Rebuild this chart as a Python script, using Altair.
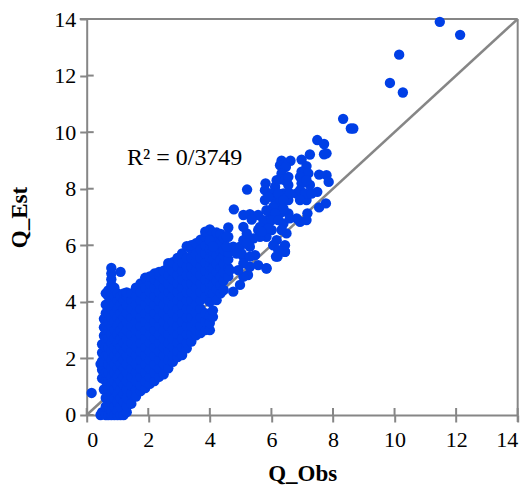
import altair as alt
import pandas as pd

tick_values = [0, 2, 4, 6, 8, 10, 12, 14]
GRAY = "#868686"
BLUE = "#003FE6"

# Columns of the dense cloud: Q_Obs -> list of Q_Est
cloud = {
    0.45: [0.0, 1.8],
    0.5: [0.1, 1.3, 1.6, 1.9, 2.2, 2.5],
    0.56: [0.9, 2.8, 3.1, 3.4],
    0.62: [0.0, 0.3, 0.6, 1.2, 1.5, 2.1, 2.4, 2.7, 3.0, 3.3, 3.6, 3.9, 4.3],
    0.7: [0.0, 0.3, 0.6, 0.9, 1.2, 1.5, 1.8, 2.1, 2.4, 2.7, 3.0, 3.3, 3.6, 3.9, 4.2, 4.4],
    0.8: [0.0, 0.15, 0.45, 0.75, 1.05, 1.35, 1.65, 1.95, 2.25, 2.55, 2.85, 3.15, 3.45, 3.75, 4.05, 4.35, 4.6, 4.8, 5.0, 5.2],
    0.9: [0.0, 0.3, 0.6, 0.9, 1.2, 1.5, 1.8, 2.1, 2.4, 2.7, 3.0, 3.3, 3.6, 3.9, 4.2, 4.5],
    1.0: [0.0, 0.15, 0.45, 0.75, 1.05, 1.35, 1.65, 1.95, 2.25, 2.55, 2.85, 3.15, 3.45, 3.75, 4.05, 4.3],
    1.1: [0.0, 0.3, 0.6, 0.9, 1.2, 1.5, 1.8, 2.1, 2.4, 2.7, 3.0, 3.3, 3.6, 3.9, 4.2, 5.06],
    1.2: [0.0, 0.45, 0.75, 1.05, 1.35, 1.65, 1.95, 2.25, 2.55, 2.85, 3.15, 3.45, 3.75, 4.05, 4.3],
    1.3: [0.1, 0.3, 0.6, 0.9, 1.2, 1.5, 1.8, 2.1, 2.4, 2.7, 3.0, 3.3, 3.6, 3.9, 4.2, 4.33],
    1.45: [0.4, 0.75, 1.05, 1.35, 1.65, 1.95, 2.25, 2.55, 2.85, 3.15, 3.45, 3.75, 4.05, 4.3],
    1.6: [0.65, 0.9, 1.2, 1.5, 1.8, 2.1, 2.4, 2.7, 3.0, 3.3, 3.6, 3.9, 4.2, 4.5],
    1.75: [0.85, 1.05, 1.35, 1.65, 1.95, 2.25, 2.55, 2.85, 3.15, 3.45, 3.75, 4.05, 4.35, 4.65],
    1.9: [0.95, 1.2, 1.5, 1.8, 2.1, 2.4, 2.7, 3.0, 3.3, 3.6, 3.9, 4.2, 4.5, 4.85],
    2.05: [1.1, 1.35, 1.65, 1.95, 2.25, 2.55, 2.85, 3.15, 3.45, 3.75, 4.05, 4.35, 4.65, 4.9],
    2.2: [1.2, 1.5, 1.8, 2.1, 2.4, 2.7, 3.0, 3.3, 3.6, 3.9, 4.2, 4.5, 4.8, 5.0],
    2.35: [1.35, 1.65, 1.95, 2.25, 2.55, 2.85, 3.15, 3.45, 3.75, 4.05, 4.35, 4.65, 4.95, 5.06],
    2.5: [1.44, 1.8, 2.1, 2.4, 2.7, 3.0, 3.3, 3.6, 3.9, 4.2, 4.5, 4.8, 5.1],
    2.65: [1.65, 1.95, 2.25, 2.55, 2.85, 3.15, 3.45, 3.75, 4.05, 4.35, 4.65, 4.95, 5.25, 5.37],
    2.8: [1.88, 2.1, 2.4, 2.7, 3.0, 3.3, 3.6, 3.9, 4.2, 4.5, 4.8, 5.1, 5.4],
    2.95: [2.05, 2.25, 2.55, 2.85, 3.15, 3.45, 3.75, 4.05, 4.35, 4.65, 4.95, 5.25, 5.55],
    3.1: [2.12, 2.4, 2.7, 3.0, 3.3, 3.6, 3.9, 4.2, 4.5, 4.8, 5.1, 5.4, 5.71],
    3.25: [2.36, 2.55, 2.85, 3.15, 3.45, 3.75, 4.05, 4.35, 4.65, 4.95, 5.25, 5.55, 5.97],
    3.4: [2.6, 2.85, 3.15, 3.45, 3.75, 4.05, 4.35, 4.65, 4.95, 5.25, 5.55, 5.85, 6.0],
    3.55: [2.82, 3.0, 3.3, 3.6, 3.9, 4.2, 4.5, 4.8, 5.1, 5.4, 5.7, 6.07],
    3.7: [2.9, 3.15, 3.45, 3.75, 4.05, 4.35, 4.65, 4.95, 5.25, 5.55, 5.85, 6.2],
    3.85: [3.0, 3.3, 3.6, 4.2, 4.5, 4.8, 5.1, 5.4, 5.7, 6.0, 6.3, 6.48],
    4.0: [3.0, 3.25, 3.5, 4.0, 4.35, 4.65, 4.95, 5.25, 5.55, 5.85, 6.15, 6.56],
    4.1: [3.47, 3.7, 4.3, 4.6, 4.9, 5.2, 5.5, 5.8, 6.1, 6.45],
    4.22: [4.06, 4.45, 4.75, 5.05, 5.35, 5.65, 5.95, 6.25, 6.45],
    4.35: [4.3, 4.6, 4.9, 5.2, 5.5, 5.8, 6.1, 6.4],
    4.45: [4.42, 4.75, 5.05, 5.35, 5.65, 5.83, 6.25],
    4.6: [4.9, 5.2, 5.5, 5.75, 6.3, 6.63],
}

# Scattered points outside the dense cloud
extra_x = [0.16, 4.76, 4.98, 5.24, 5.84, 6.2, 6.44,
           7.49, 7.71, 7.79, 7.71, 7.25, 6.98, 6.62, 6.33, 6.28, 6.47, 7.14, 6.98, 7.2,
           6.33, 6.28, 7.55, 7.79, 7.86, 7.25, 6.98, 6.55, 5.81, 6.12, 5.21, 7.49, 7.14,
           7.77, 7.55, 7.17, 7.14, 6.93, 4.78, 5.09, 5.3, 5.57, 5.36, 5.09, 5.2, 5.79,
           5.79, 6.01, 6.39, 6.82, 6.55, 6.22, 5.95, 6.55, 6.82, 5.84, 6.39, 6.01, 6.49,
           5.84, 6.17, 6.44, 6.44, 6.15, 5.84, 5.57, 5.3, 5.47, 5.09, 5.3, 4.98, 4.55,
           6.12, 6.28, 6.12, 6.28, 5.57, 5.63, 5.41, 5.09, 4.76, 5.09,
           5.9, 6.22, 6.6, 6.39, 6.17, 6.44, 6.55, 6.93, 7.14, 6.93, 7.09, 6.93, 7.3,
           6.06, 6.39, 5.84, 6.12, 5.74, 6.01, 6.22, 6.6, 5.63, 5.9, 6.33, 5.68, 6.06, 6.22,
           5.3, 5.2, 5.03, 4.87, 5.3, 5.09, 4.65, 4.92, 4.55, 4.0, 4.11,
           11.47, 12.13, 10.15, 9.85, 10.27, 8.33, 8.58, 8.66]
extra_y = [0.78, 4.36, 4.6, 4.95, 5.19, 5.6, 5.77,
           9.72, 9.58, 9.25, 9.22, 9.21, 9.03, 8.99, 8.99, 8.83, 8.77, 8.8, 8.6, 8.54,
           8.54, 8.33, 8.5, 8.48, 8.24, 8.13, 8.19, 8.13, 8.19, 8.07, 7.97, 7.89, 7.6,
           7.48, 7.34, 7.13, 6.89, 6.83, 7.27, 7.07, 7.1, 7.07, 6.91, 6.65, 6.42, 7.95,
           7.6, 7.83, 7.83, 7.83, 7.6, 7.36, 7.13, 7.13, 6.95, 6.77, 6.77, 6.54, 6.42,
           6.3, 6.18, 6.0, 5.77, 5.6, 5.18, 5.3, 5.95, 5.65, 5.6, 5.24, 5.95, 6.3,
           7.6, 7.54, 7.0, 7.13, 6.54, 6.3, 6.24, 6.18, 5.95, 4.89,
           7.71, 7.83, 7.83, 7.6, 8.3, 8.3, 8.42, 8.42, 8.3, 7.95, 7.83, 7.6, 7.83,
           7.36, 7.3, 7.24, 7.13, 6.89, 6.89, 6.89, 6.95, 6.65, 6.6, 6.54, 6.48, 6.0, 5.83,
           6.18, 6.07, 5.71, 5.71, 5.6, 5.36, 5.12, 5.12, 5.95, 6.18, 5.95,
           13.9, 13.44, 12.74, 11.74, 11.4, 10.47, 10.13, 10.13]

obs, est = [], []
for cx, ys in cloud.items():
    for cy in ys:
        obs.append(cx)
        est.append(cy)
obs += extra_x
est += extra_y
points = pd.DataFrame({"obs": obs, "est": est})

xs = alt.Scale(domain=[0, 14], nice=False)
ys_scale = alt.Scale(domain=[0, 14], nice=False)
W, H = 431, 396

x_axis = alt.Axis(values=tick_values, title="Q_Obs", grid=False, domainColor=GRAY, domainWidth=2,
                  tickColor=GRAY, tickWidth=2, tickSize=7, labelPadding=8, labelFont="Liberation Serif",
                  labelFontSize=22, labelColor="#000000", labelAngle=0, titleFont="Liberation Serif",
                  titleFontSize=23, titleFontWeight="bold", titleColor="#000000", titlePadding=12)
y_axis = alt.Axis(values=tick_values, title="Q_Est", grid=False, domainColor=GRAY, domainWidth=2,
                  tickColor=GRAY, tickWidth=2, tickSize=7, labelPadding=4, labelFont="Liberation Serif",
                  labelFontSize=22, labelColor="#000000", titleFont="Liberation Serif",
                  titleFontSize=23, titleFontWeight="bold", titleColor="#000000", titlePadding=22)

diag = alt.Chart(pd.DataFrame({"obs": [0, 14], "est": [0, 14]})).mark_line(color=GRAY, strokeWidth=2.5, clip=False).encode(
    x=alt.X("obs:Q", scale=xs, axis=x_axis), y=alt.Y("est:Q", scale=ys_scale, axis=y_axis))

ticks_df = pd.DataFrame({"v": tick_values})
x_in = alt.Chart(ticks_df).mark_rule(color=GRAY, strokeWidth=2).encode(
    x=alt.X("v:Q", scale=xs), y=alt.value(H - 7), y2=alt.value(H))
y_in = alt.Chart(ticks_df).mark_rule(color=GRAY, strokeWidth=2).encode(
    y=alt.Y("v:Q", scale=ys_scale), x=alt.value(0), x2=alt.value(7))
top = alt.Chart(pd.DataFrame({"a": [0]})).mark_rule(color=GRAY, strokeWidth=2).encode(
    x=alt.value(-7), x2=alt.value(W), y=alt.value(0))
right = alt.Chart(pd.DataFrame({"a": [0]})).mark_rule(color=GRAY, strokeWidth=2).encode(
    x=alt.value(W), y=alt.value(0), y2=alt.value(H + 7))

dots = alt.Chart(points).mark_circle(color=BLUE, opacity=1, size=108, clip=False).encode(
    x=alt.X("obs:Q", scale=xs), y=alt.Y("est:Q", scale=ys_scale))

label = alt.Chart(pd.DataFrame({"obs": [1.31], "est": [8.83], "t": ["R² = 0/3749"]})).mark_text(
    font="Liberation Serif", fontSize=24, color="#000000", align="left", baseline="alphabetic"
).encode(x=alt.X("obs:Q", scale=xs), y=alt.Y("est:Q", scale=ys_scale), text="t:N")

chart = alt.layer(diag, x_in, y_in, top, right, dots, label).properties(
    width=W, height=H,
    autosize=alt.AutoSizeParams(type="none"),
    padding={"left": 78.7, "top": 11, "right": 2, "bottom": 72},
    background="#FFFFFF",
).configure_view(stroke=None)

chart.save("out.html", embed_options={"renderer": "svg", "actions": False})
